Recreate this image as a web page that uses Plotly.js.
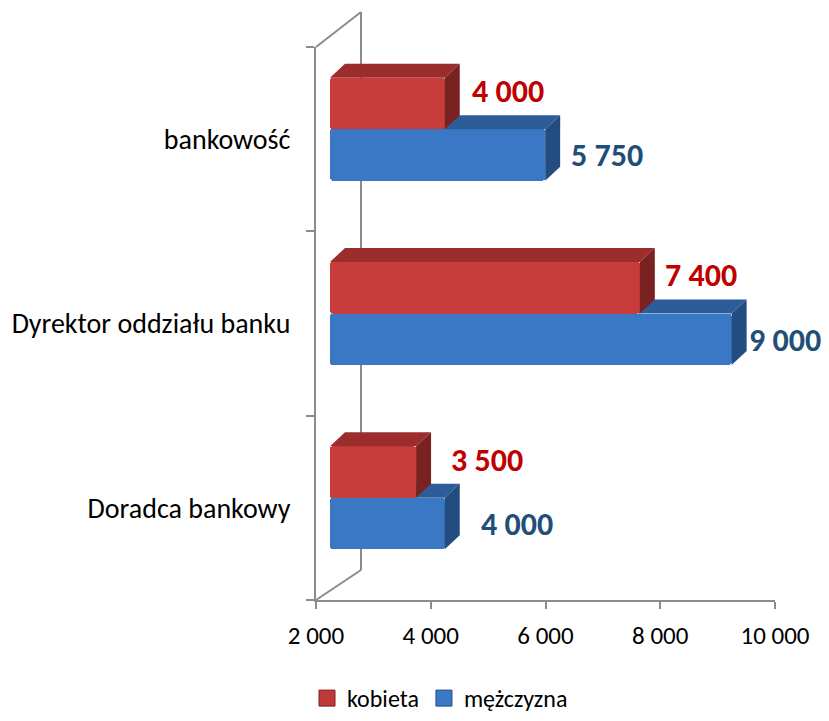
<!DOCTYPE html>
<html>
<head>
<meta charset="utf-8">
<script src="https://cdn.plot.ly/plotly-3.0.1.min.js"></script>
<style>
  html, body { margin: 0; padding: 0; background: #ffffff; }
  #chart { width: 829px; height: 721px; }
</style>
</head>
<body>
<div id="chart"></div>
<script>
// ---------- data ----------
const categories = ['Doradca bankowy', 'Dyrektor oddziału banku', 'bankowość'];
const kobieta = [3500, 7400, 4000];
const mezczyzna = [4000, 9000, 5750];
const seriesNames = ['kobieta', 'mężczyzna'];
const xTickValues = [2000, 4000, 6000, 8000, 10000];
const xTickLabels = ['2 000', '4 000', '6 000', '8 000', '10 000'];

// ---------- styling ----------
const FONT = 'Carlito, Calibri, Lato, sans-serif';
const X_MIN = 2000, X_MAX = 10000;
const PLOT_L = 316, PLOT_R = 775, PLOT_T = 47, PLOT_B = 600;
const W = 829, H = 721;
const PLOT_W = PLOT_R - PLOT_L, PLOT_H = PLOT_B - PLOT_T;
const NCAT = categories.length;
const uX = (X_MAX - X_MIN) / PLOT_W;      // data units per pixel
const uY = NCAT / PLOT_H;
const FRONT_SHIFT = 14;   // px
const DEPTH_X = 15, DEPTH_Y = 14; // px
const BAR_PX = 51.5;
const GROUP_SPLIT = 10;  // px above band centre

const styles = [
  { front: '#c83c3c', top: '#9c2d2d', side: '#7a2222', legend: '#c0393a', label: '#c00000',
    centre: GROUP_SPLIT + BAR_PX / 2, labelGap: [33, 23, 25], labelDy: 12 },
  { front: '#3a78c6', top: '#2c5d99', side: '#234c80', legend: '#3a78c6', label: '#1f4e79',
    centre: GROUP_SPLIT - BAR_PX / 2, labelGap: [34, 15, 24], labelDy: -1 }
];
const seriesValues = [kobieta, mezczyzna];
const axesFor = [['x', 'y2'], ['x', 'y']];  // red drawn on overlay so it covers blue's top face

function fmt(v) { return String(v).replace(/\B(?=(\d{3})+(?!\d))/g, ' '); }

const traces = [];
const annotations = [];
const drawOrder = [1, 0]; // blue first (main subplot), red second (overlay)

drawOrder.forEach(function (s) {
  const st = styles[s];
  const vals = seriesValues[s];
  const xa = axesFor[s][0], ya = axesFor[s][1];
  const base = X_MIN + FRONT_SHIFT * uX;
  const yc = categories.map(function (_, i) { return i + 0.5 + st.centre * uY; });
  const h = BAR_PX * uY;
  traces.push({
    type: 'bar', orientation: 'h', name: seriesNames[s],
    y: yc, x: vals.map(function (v) { return v - X_MIN; }), base: base,
    width: h, marker: { color: st.front, line: { width: 0 }, cornerradius: 3 },
    xaxis: xa, yaxis: ya, showlegend: false, hoverinfo: 'skip'
  });
  const dx = DEPTH_X * uX, dy = DEPTH_Y * uY;
  vals.forEach(function (v, i) {
    const e = v + FRONT_SHIFT * uX;
    const yt = yc[i] + h / 2, yb = yc[i] - h / 2;
    traces.push({
      type: 'scatter', mode: 'lines', fill: 'toself', fillcolor: st.top,
      x: [base, base + dx, e + dx, e, base], y: [yt, yt + dy, yt + dy, yt, yt],
      line: { width: 0 }, xaxis: xa, yaxis: ya, showlegend: false, hoverinfo: 'skip'
    });
    traces.push({
      type: 'scatter', mode: 'lines', fill: 'toself', fillcolor: st.side,
      x: [e, e + dx, e + dx, e, e], y: [yt, yt + dy, yb + dy, yb, yt],
      line: { width: 0 }, xaxis: xa, yaxis: ya, showlegend: false, hoverinfo: 'skip'
    });
    annotations.push({
      xref: xa, yref: ya, x: v, y: yc[i], xanchor: 'left', yanchor: 'middle',
      xshift: FRONT_SHIFT + st.labelGap[i], yshift: st.labelDy,
      text: fmt(v), showarrow: false,
      font: { family: FONT, size: 32, color: st.label, weight: 'bold' }
    });
  });
});

// legend entries
[0, 1].forEach(function (s) {
  traces.push({
    type: 'scatter', mode: 'markers', name: seriesNames[s], x: [null], y: [null],
    marker: { symbol: 'square', size: 16, color: styles[s].legend,
              line: { color: styles[s].side, width: 1 } },
    showlegend: true, hoverinfo: 'skip'
  });
});

const GRAY = '#8c8c8c';
const bx = (361 - PLOT_L) / PLOT_W;
const layout = {
  width: W, height: H,
  margin: { l: PLOT_L, r: W - PLOT_R, t: PLOT_T, b: H - PLOT_B, pad: 0 },
  paper_bgcolor: '#ffffff', plot_bgcolor: 'rgba(0,0,0,0)',
  font: { family: FONT, color: '#000000' },
  showlegend: true,
  legend: {
    orientation: 'h', xref: 'container', yref: 'container',
    x: 440 / W, xanchor: 'center', y: -0.01, yanchor: 'bottom',
    font: { family: FONT, size: 24, color: '#000000' },
    itemwidth: 30, tracegroupgap: 0, borderwidth: 0, bgcolor: 'rgba(0,0,0,0)'
  },
  xaxis: {
    range: [X_MIN, X_MAX], tickmode: 'array', tickvals: xTickValues, ticktext: xTickLabels,
    ticks: 'outside', ticklen: 7, tickwidth: 2, tickcolor: GRAY, ticklabelstandoff: 5,
    showline: true, linecolor: GRAY, linewidth: 2, showgrid: false, zeroline: false,
    tickfont: { family: FONT, size: 25, color: '#000000' }, fixedrange: true
  },
  yaxis: {
    range: [0, NCAT], tickmode: 'array',
    tickvals: categories.map(function (_, i) { return i + 0.5; }), ticktext: categories,
    ticks: 'outside', ticklen: 18, tickcolor: 'rgba(0,0,0,0)',
    minor: { tickmode: 'array', tickvals: categories.map(function (_, i) { return i; }).concat([NCAT]),
             ticks: 'outside', ticklen: 8, tickwidth: 2, tickcolor: GRAY },
    showline: true, linecolor: GRAY, linewidth: 2, showgrid: false, zeroline: false,
    tickfont: { family: FONT, size: 28, color: '#000000' }, fixedrange: true
  },
  yaxis2: {
    range: [0, NCAT], overlaying: 'y', visible: false, fixedrange: true
  },
  shapes: [
    { type: 'line', xref: 'paper', yref: 'paper', x0: bx, x1: bx,
      y0: (PLOT_B - 570) / PLOT_H, y1: (PLOT_B - 12) / PLOT_H,
      line: { color: GRAY, width: 2 }, layer: 'below' },
    { type: 'line', xref: 'paper', yref: 'paper', x0: 0, x1: bx,
      y0: 1, y1: (PLOT_B - 12) / PLOT_H, line: { color: GRAY, width: 2 }, layer: 'below' },
    { type: 'line', xref: 'paper', yref: 'paper', x0: 0, x1: bx,
      y0: 0, y1: (PLOT_B - 570) / PLOT_H, line: { color: GRAY, width: 2 }, layer: 'below' }
  ],
  annotations: annotations,
  bargap: 0
};

Plotly.newPlot('chart', traces, layout, { displayModeBar: false, staticPlot: true });
</script>
</body>
</html>
